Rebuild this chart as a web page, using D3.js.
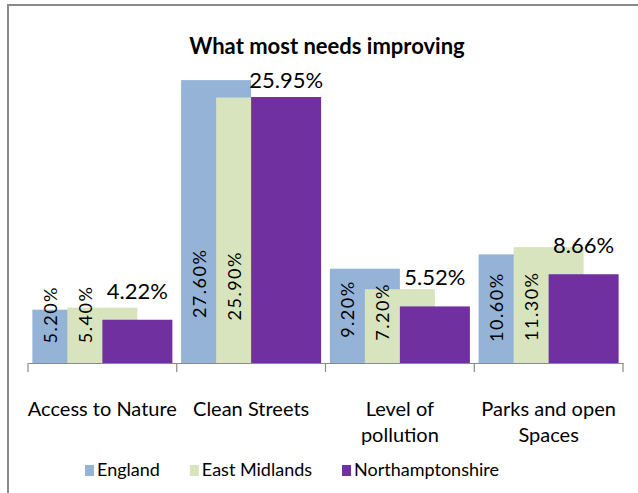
<!DOCTYPE html>
<html>
<head>
<meta charset="utf-8">
<script src="https://cdn.jsdelivr.net/npm/d3@7"></script>
<style>
  body{margin:0;background:#fff;}
  svg text{font-family:Lato,"Open Sans",sans-serif;fill:#000;}
</style>
</head>
<body>
<svg id="chart" width="638" height="493"></svg>
<script>

var categories = [["Access to Nature"],["Clean Streets"],["Level of","pollution"],["Parks and open","Spaces"]];
var seriesNames = ["England","East Midlands","Northamptonshire"];
var england          = [5.20, 27.60, 9.20, 10.60];
var eastMidlands     = [5.40, 25.90, 7.20, 11.30];
var northamptonshire = [4.22, 25.95, 5.52, 8.66];
var colors = ["#95b3d7","#d7e4bd","#7030a0"];

var series = [england, eastMidlands, northamptonshire];

var svg = d3.select("#chart");

// chart frame, runs off the right and bottom edge
svg.append("rect")
  .attr("x",8).attr("y",5)
  .attr("width",700).attr("height",600)
  .attr("fill","none")
  .attr("stroke","#8a8a8a")
  .attr("stroke-width",2);

svg.append("text")
  .attr("x",327).attr("y",54)
  .attr("text-anchor","middle")
  .style("font-size","22px")
  .style("font-weight","bold")
  .text("What most needs improving");

var x0 = d3.scaleBand()
  .domain(d3.range(categories.length))
  .range([28,623])
  .paddingInner(0).paddingOuter(0);

var y = d3.scaleLinear()
  .domain([0,30])
  .range([363,55.5]);

var barW   = 70;
var stride = 35;
function barX(i,s){
  var bw = x0.bandwidth();
  var groupW = stride*(series.length-1) + barW;
  return x0(i) + (bw-groupW)/2 + s*stride;
}

// bars, drawn in series order so later ones overlap
series.forEach(function(vals,s){
  svg.append("g")
    .selectAll("rect")
    .data(vals)
    .enter()
    .append("rect")
    .attr("x",function(d,i){return barX(i,s)})
    .attr("y",function(d){return y(d)})
    .attr("width",barW)
    .attr("height",function(d){return y(0)-y(d)})
    .attr("fill",colors[s]);
});

// rotated labels for England / East Midlands
[0,1].forEach(function(s){
  svg.append("g")
    .selectAll("text")
    .data(series[s])
    .enter()
    .append("text")
    .attr("transform",function(d,i){
      var cx = barX(i,s) + stride/2;
      var cy = y(0) - (41 + 1.4*d);
      return "translate("+cx+","+cy+") rotate(-90)";
    })
    .attr("text-anchor","middle")
    .attr("dominant-baseline","central")
    .style("font-size","18px")
    .style("letter-spacing","1.5px")
    .text(function(d){return d.toFixed(2)+"%"});
});

// Northamptonshire labels above the bars
svg.append("g")
  .selectAll("text")
  .data(northamptonshire)
  .enter()
  .append("text")
  .attr("x",function(d,i){return barX(i,2)+barW/2})
  .attr("y",function(d){return Math.max(y(d)-21,88)})
  .attr("text-anchor","middle")
  .style("font-size","22px")
  .text(function(d){return d.toFixed(2)+"%"});

// category axis
var axis = d3.axisBottom(x0)
  .tickSize(0)
  .tickFormat("");
var gx = svg.append("g")
  .attr("transform","translate(0,"+y(0)+")")
  .call(axis);
gx.select(".domain").attr("stroke","#8a8a8a").attr("stroke-width",1.2);

var bounds = x0.domain().map(function(i){return x0(i)}).concat([x0.range()[1]]);
gx.selectAll(".sep")
  .data(bounds)
  .enter()
  .append("line")
  .attr("x1",function(d){return d}).attr("x2",function(d){return d})
  .attr("y1",0).attr("y2",9)
  .attr("stroke","#8a8a8a")
  .attr("stroke-width",1.2);

var catLabels = svg.append("g")
  .selectAll("text")
  .data(categories)
  .enter()
  .append("text")
  .attr("x",function(d,i){return x0(i)+x0.bandwidth()/2})
  .attr("y",416)
  .attr("text-anchor","middle")
  .style("font-size","20px");
catLabels.selectAll("tspan")
  .data(function(d){return d})
  .enter()
  .append("tspan")
  .attr("x",function(){return d3.select(this.parentNode).attr("x")})
  .attr("dy",function(d,i){return i==0 ? 0 : 26})
  .text(function(d){return d});

// legend
var legend = svg.append("g");
var lx = 0;
seriesNames.forEach(function(name,s){
  var item = legend.append("g").attr("transform","translate("+lx+",0)");
  item.append("rect")
    .attr("x",0).attr("y",-11)
    .attr("width",9).attr("height",11)
    .attr("fill",colors[s]);
  var t = item.append("text")
    .attr("x",12).attr("y",0)
    .style("font-size","18px")
    .text(name);
  lx += 12 + t.node().getComputedTextLength() + 30;
});
lx -= 30;
legend.attr("transform","translate("+(292-lx/2)+",476)");

</script>
</body>
</html>
